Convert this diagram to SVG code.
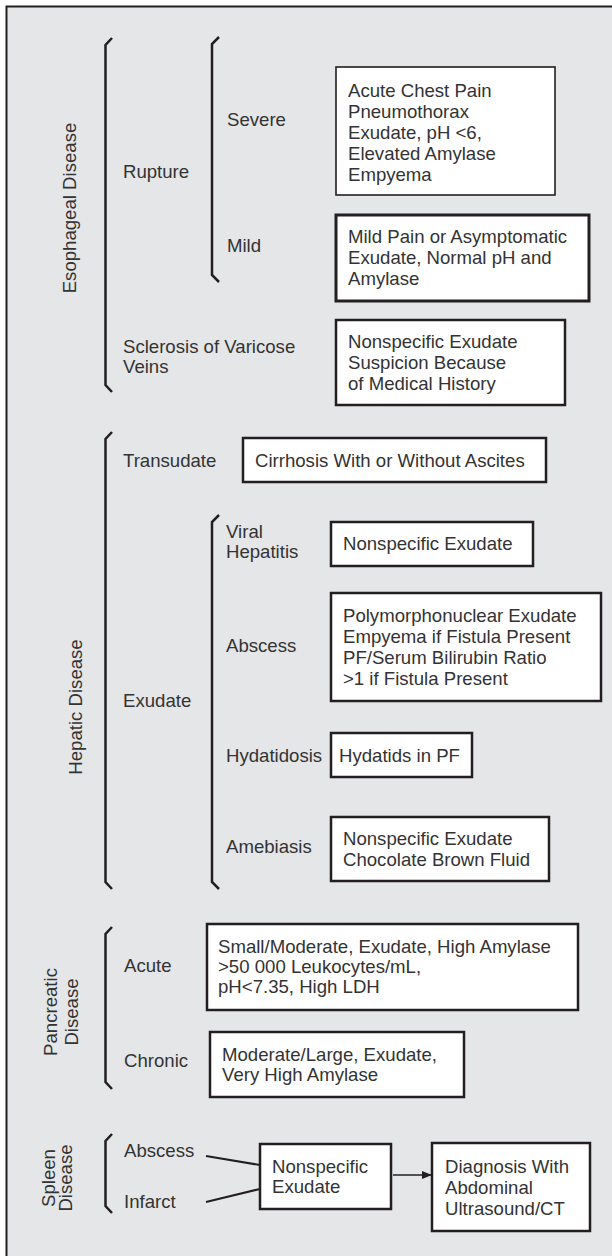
<svg xmlns="http://www.w3.org/2000/svg" width="612" height="1256" viewBox="0 0 612 1256">
<defs>
<style>
text{font-family:"Liberation Sans",Arial,sans-serif;font-size:18.6px;fill:#333}
.box{fill:#fff;stroke:#231f20;stroke-width:2.5}
.br{fill:none;stroke:#231f20;stroke-width:2.5;stroke-linejoin:miter}
.ln{fill:none;stroke:#231f20;stroke-width:2.2}
</style>
<marker id="ah" markerWidth="10" markerHeight="8" refX="9" refY="4" orient="auto" markerUnits="userSpaceOnUse">
<path d="M0,0 L10,4 L0,8 Z" fill="#231f20"/>
</marker>
</defs>
<rect x="0" y="0" width="612" height="1256" fill="#fff"/>
<rect x="6.5" y="6.5" width="606" height="1250" fill="#e5e6e8"/>
<path d="M6.5,1256 V6.5 H612" fill="none" stroke="#231f20" stroke-width="2"/>

<g id="brackets">
<path class="br" d="M112,38 L105.5,45 V385 L112,392"/>
<path class="br" d="M219,37 L212,44 V275 L219,282"/>
<path class="br" d="M112,432 L105.5,439 V882 L112,889"/>
<path class="br" d="M219,515 L212,522 V882 L219,889"/>
<path class="br" d="M112,927 L105.5,934 V1082 L112,1089"/>
<path class="br" d="M112,1134 L105.5,1141 V1206 L112,1213"/>
</g>

<g id="group-labels">
<text transform="translate(75.5,208) rotate(-90)" text-anchor="middle">Esophageal Disease</text>
<text transform="translate(82,707) rotate(-90)" text-anchor="middle">Hepatic Disease</text>
<text transform="translate(57,1012) rotate(-90)" text-anchor="middle">Pancreatic</text>
<text transform="translate(78,1012) rotate(-90)" text-anchor="middle">Disease</text>
<text transform="translate(55,1178) rotate(-90)" text-anchor="middle">Spleen</text>
<text transform="translate(72,1178) rotate(-90)" text-anchor="middle">Disease</text>
</g>

<g id="labels">
<text x="123" y="178">Rupture</text>
<text x="227" y="126">Severe</text>
<text x="227" y="252">Mild</text>
<text x="123" y="353">Sclerosis of Varicose</text>
<text x="123" y="373">Veins</text>
<text x="123" y="467">Transudate</text>
<text x="226" y="538">Viral</text>
<text x="226" y="558">Hepatitis</text>
<text x="226" y="652">Abscess</text>
<text x="123" y="707">Exudate</text>
<text x="226" y="762">Hydatidosis</text>
<text x="226" y="853">Amebiasis</text>
<text x="124" y="972">Acute</text>
<text x="124" y="1067">Chronic</text>
<text x="124" y="1157">Abscess</text>
<text x="124" y="1208">Infarct</text>
</g>

<g id="box-severe">
<rect class="box" x="336" y="67" width="219" height="128" style="stroke-width:1.6"/>
<text x="348" y="97">Acute Chest Pain</text>
<text x="348" y="118">Pneumothorax</text>
<text x="348" y="139">Exudate, pH &lt;6,</text>
<text x="348" y="160">Elevated Amylase</text>
<text x="348" y="181">Empyema</text>
</g>
<g id="box-mild">
<rect class="box" x="336" y="215" width="253" height="86" style="stroke-width:3"/>
<text x="348" y="243">Mild Pain or Asymptomatic</text>
<text x="348" y="264">Exudate, Normal pH and</text>
<text x="348" y="285">Amylase</text>
</g>
<g id="box-sclerosis">
<rect class="box" x="336" y="320" width="229" height="85"/>
<text x="348" y="348">Nonspecific Exudate</text>
<text x="348" y="369">Suspicion Because</text>
<text x="348" y="390">of Medical History</text>
</g>
<g id="box-transudate">
<rect class="box" x="243" y="438" width="303" height="44"/>
<text x="255" y="467">Cirrhosis With or Without Ascites</text>
</g>
<g id="box-viral">
<rect class="box" x="331" y="522" width="202" height="44"/>
<text x="343" y="550">Nonspecific Exudate</text>
</g>
<g id="box-abscess">
<rect class="box" x="331" y="593" width="270" height="108"/>
<text x="343" y="622">Polymorphonuclear Exudate</text>
<text x="343" y="643">Empyema if Fistula Present</text>
<text x="343" y="664">PF/Serum Bilirubin Ratio</text>
<text x="343" y="685">&gt;1 if Fistula Present</text>
</g>
<g id="box-hydatidosis">
<rect class="box" x="331" y="733" width="141" height="44"/>
<text x="339" y="762">Hydatids in PF</text>
</g>
<g id="box-amebiasis">
<rect class="box" x="331" y="817" width="218" height="64"/>
<text x="343" y="845">Nonspecific Exudate</text>
<text x="343" y="866">Chocolate Brown Fluid</text>
</g>
<g id="box-acute">
<rect class="box" x="207" y="924" width="371" height="86"/>
<text x="218" y="953">Small/Moderate, Exudate, High Amylase</text>
<text x="218" y="973">&gt;50 000 Leukocytes/mL,</text>
<text x="218" y="993">pH&lt;7.35, High LDH</text>
</g>
<g id="box-chronic">
<rect class="box" x="210" y="1032" width="254" height="65"/>
<text x="222" y="1061">Moderate/Large, Exudate,</text>
<text x="222" y="1081">Very High Amylase</text>
</g>
<g id="box-spleen-exudate">
<rect class="box" x="260" y="1144" width="131" height="65"/>
<text x="272" y="1173">Nonspecific</text>
<text x="272" y="1193">Exudate</text>
</g>
<g id="box-diagnosis">
<rect class="box" x="432" y="1143" width="158" height="88"/>
<text x="445" y="1173">Diagnosis With</text>
<text x="445" y="1194">Abdominal</text>
<text x="445" y="1215">Ultrasound/CT</text>
</g>

<g id="connectors">
<line class="ln" x1="206" y1="1156" x2="260" y2="1165"/>
<line class="ln" x1="206" y1="1202" x2="260" y2="1189"/>
<line class="ln" x1="393" y1="1175" x2="431" y2="1175" style="stroke-width:1.6" marker-end="url(#ah)"/>
</g>
</svg>
